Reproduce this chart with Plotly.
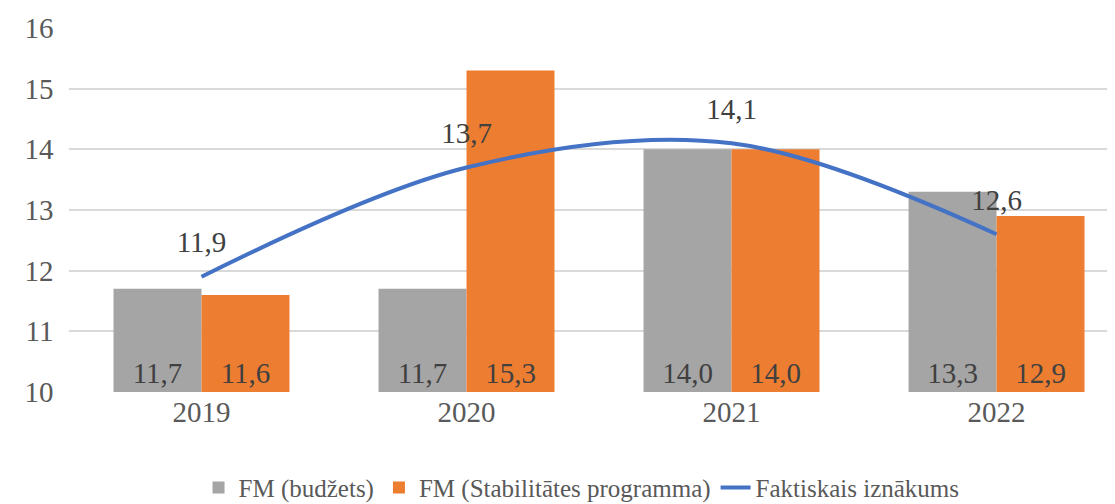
import plotly.graph_objects as go

YEARS = ["2019", "2020", "2021", "2022"]
BUDGET = [11.7, 11.7, 14.0, 13.3]
STABILITY = [11.6, 15.3, 14.0, 12.9]
ACTUAL = [11.9, 13.7, 14.1, 12.6]

SERIF = "Times New Roman"
GREY = "#A5A5A5"
ORANGE = "#ED7D31"
BLUE = "#4472C4"
TEXT = "#404040"
AXIS_TEXT = "#595959"
LABEL_FONT = dict(size=29, color=TEXT, family=SERIF)


def fmt(v):
    return f"{v:.1f}".replace(".", ",")


fig = go.Figure()
fig.add_trace(go.Bar(x=YEARS, y=[v - 10 for v in BUDGET], base=10, name="FM (budžets)",
                     marker=dict(color=GREY, line=dict(width=0)),
                     text=[fmt(v) for v in BUDGET], textposition="inside", insidetextanchor="start",
                     textfont=LABEL_FONT))
fig.add_trace(go.Bar(x=YEARS, y=[v - 10 for v in STABILITY], base=10, name="FM (Stabilitātes programma)",
                     marker=dict(color=ORANGE, line=dict(width=0)),
                     text=[fmt(v) for v in STABILITY], textposition="inside", insidetextanchor="start",
                     textfont=LABEL_FONT))
fig.add_trace(go.Scatter(x=YEARS, y=ACTUAL, mode="lines", name="Faktiskais iznākums",
                         line=dict(color=BLUE, width=4, shape="spline")))
# line labels, lifted above the points by an invisible marker
fig.add_trace(go.Scatter(x=YEARS, y=ACTUAL, mode="markers+text", text=[fmt(v) for v in ACTUAL],
                         textposition="top center", showlegend=False, hoverinfo="skip",
                         marker=dict(size=26, opacity=0), textfont=LABEL_FONT))

# page body has an 8px margin, so the figure is 8px smaller than the window
fig.update_layout(
    width=1107, height=496,
    margin=dict(l=61, r=0, t=20, b=112, autoexpand=False),
    plot_bgcolor="white", paper_bgcolor="white",
    font=dict(family=SERIF, color=AXIS_TEXT, size=29),
    barmode="group", bargap=0.336, bargroupgap=0,
    legend=dict(orientation="h", x=0.49, xanchor="center", y=-0.2, yanchor="top",
                font=dict(size=25, color=AXIS_TEXT, family=SERIF), traceorder="normal"),
)
fig.update_xaxes(range=[-0.5, 3.447], showgrid=False, showline=False, ticks="",
                 tickfont=dict(size=29, color=AXIS_TEXT, family=SERIF))
fig.update_yaxes(range=[10, 16], dtick=1, showgrid=True, gridcolor="#D9D9D9", gridwidth=1.5,
                 zeroline=False, showline=False, ticks="", ticksuffix="  ",
                 tickfont=dict(size=29, color=AXIS_TEXT, family=SERIF))

fig.write_html("out.html")
